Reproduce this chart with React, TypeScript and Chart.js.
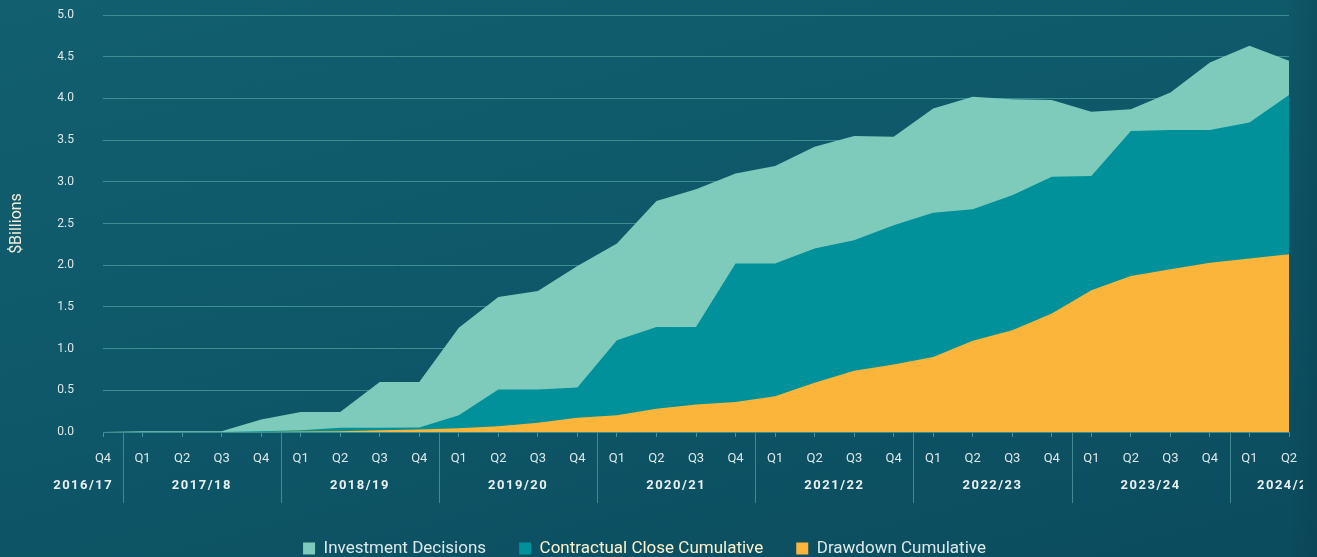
import React, { useEffect, useRef } from "react";
import { Chart, registerables } from "chart.js";

Chart.register(...registerables);

const quarterLabels = [
  "Q4",
  "Q1", "Q2", "Q3", "Q4",
  "Q1", "Q2", "Q3", "Q4",
  "Q1", "Q2", "Q3", "Q4",
  "Q1", "Q2", "Q3", "Q4",
  "Q1", "Q2", "Q3", "Q4",
  "Q1", "Q2", "Q3", "Q4",
  "Q1", "Q2", "Q3", "Q4",
  "Q1", "Q2",
];

const yearLabels = ["2016/17", "2017/18", "2018/19", "2019/20", "2020/21", "2021/22", "2022/23", "2023/24", "2024/25"];
const quartersPerYear = [1, 4, 4, 4, 4, 4, 4, 4, 2];

const investmentDecisions = [
  0, 0.01, 0.01, 0.01, 0.15, 0.24, 0.24, 0.6, 0.6, 1.25, 1.62,
  1.69, 1.99, 2.26, 2.77, 2.91, 3.1, 3.19, 3.42, 3.55, 3.54,
  3.88, 4.02, 3.99, 3.98, 3.84, 3.87, 4.07, 4.43, 4.63, 4.45,
];

const contractualClose = [
  0, 0, 0, 0, 0.01, 0.02, 0.05, 0.05, 0.055, 0.2, 0.51,
  0.51, 0.535, 1.1, 1.26, 1.26, 2.02, 2.02, 2.2, 2.3, 2.48,
  2.63, 2.67, 2.84, 3.06, 3.07, 3.61, 3.62, 3.62, 3.71, 4.04,
];

const drawdown = [
  0, 0, 0, 0, 0, 0.005, 0.01, 0.02, 0.03, 0.045, 0.07,
  0.11, 0.17, 0.2, 0.28, 0.33, 0.36, 0.43, 0.59, 0.735, 0.81,
  0.9, 1.095, 1.22, 1.42, 1.7, 1.87, 1.95, 2.03, 2.08, 2.13,
];

const yTicks = [0, 0.5, 1, 1.5, 2, 2.5, 3, 3.5, 4, 4.5, 5];

const COLORS = {
  investment: "#7ecbbc",
  contractual: "#00919a",
  drawdown: "#fcb53b",
  grid: "#3d8e93",
  tick: "#dde8ea",
};

const FONT = "Roboto, 'Noto Sans', sans-serif";

const legendFitPlugin = {
  id: "legendFit",
  beforeLayout(chart: any) {
    const lg = chart.legend;
    if (lg && !lg.__patched) {
      const origFit = lg.fit;
      lg.fit = function () {
        origFit.call(this);
        this.height = 50;
      };
      lg.__patched = true;
    }
  },
};

const yearPlugin = {
  id: "yearGroups",
  afterDraw(chart: any) {
    const x = chart.scales.x;
    const ctx = chart.ctx;
    const bottom = chart.chartArea.bottom;
    ctx.save();
    ctx.beginPath();
    ctx.rect(0, bottom, chart.chartArea.right + 14, 80);
    ctx.clip();
    let start = 0;
    quartersPerYear.forEach((n, g) => {
      const end = start + n - 1;
      let cx: number;
      if (g === 0) cx = x.getPixelForValue(start - 0.5);
      else if (g === quartersPerYear.length - 1) cx = x.getPixelForValue(end) - 2;
      else cx = (x.getPixelForValue(start) + x.getPixelForValue(end)) / 2;
      if (g > 0) {
        const sx = Math.round(x.getPixelForValue(start - 0.5)) + 0.5;
        ctx.strokeStyle = "#3f8b91";
        ctx.lineWidth = 1;
        ctx.beginPath();
        ctx.moveTo(sx, bottom);
        ctx.lineTo(sx, bottom + 71);
        ctx.stroke();
      }
      ctx.fillStyle = "#e9f0f1";
      ctx.font = `bold 13px ${FONT}`;
      (ctx as any).letterSpacing = "1.5px";
      ctx.textAlign = "center";
      ctx.textBaseline = "middle";
      ctx.fillText(yearLabels[g], cx, bottom + 54);
      start += n;
    });
    ctx.restore();
  },
};

export default function App() {
  const canvasRef = useRef<HTMLCanvasElement>(null);

  useEffect(() => {
    document.body.style.margin = "0";
    const canvas = canvasRef.current;
    if (!canvas) return;
    const chart = new Chart(canvas, {
      type: "line",
      data: {
        labels: quarterLabels,
        datasets: [
          {
            label: "Investment Decisions",
            data: investmentDecisions,
            backgroundColor: COLORS.investment,
            borderColor: COLORS.investment,
            borderWidth: 0,
            pointRadius: 0,
            fill: "origin",
            tension: 0,
            order: 3,
          },
          {
            label: "Contractual Close Cumulative",
            data: contractualClose,
            backgroundColor: COLORS.contractual,
            borderColor: COLORS.contractual,
            borderWidth: 0,
            pointRadius: 0,
            fill: "origin",
            tension: 0,
            order: 2,
          },
          {
            label: "Drawdown Cumulative",
            data: drawdown,
            backgroundColor: COLORS.drawdown,
            borderColor: COLORS.drawdown,
            borderWidth: 0,
            pointRadius: 0,
            fill: "origin",
            tension: 0,
            order: 1,
          },
        ],
      },
      options: {
        animation: false,
        responsive: false,
        maintainAspectRatio: false,
        layout: { padding: { top: 15, right: 28, bottom: 0, left: 0 } },
        plugins: {
          tooltip: { enabled: false },
          legend: {
            position: "bottom",
            labels: {
              boxWidth: 12,
              boxHeight: 12,
              padding: 33,
              font: { family: FONT, size: 17 },
              color: "#dce9ea",
              sort: (a: any, b: any) => a.datasetIndex - b.datasetIndex,
              generateLabels: (ch: any) => {
                const textColors = ["#dce9ea", "#fdf2cc", "#dce9ea"];
                return ch.data.datasets.map((ds: any, i: number) => ({
                  text: ds.label,
                  fillStyle: ds.backgroundColor,
                  strokeStyle: ds.backgroundColor,
                  lineWidth: 0,
                  hidden: false,
                  datasetIndex: i,
                  fontColor: textColors[i],
                }));
              },
            },
          },
        },
        scales: {
          x: {
            type: "category",
            offset: false,
            grid: {
              display: true,
              drawOnChartArea: false,
              drawTicks: true,
              tickLength: 5,
              color: "#4a9499",
            },
            border: { display: true, color: COLORS.grid },
            ticks: {
              color: COLORS.tick,
              font: { family: FONT, size: 13 },
              padding: 14,
              maxRotation: 0,
              autoSkip: false,
            },
            afterFit: (scale: any) => {
              scale.height = 75;
            },
          },
          y: {
            min: 0,
            max: 5,
            afterBuildTicks: (scale: any) => {
              scale.ticks = yTicks.map((v) => ({ value: v }));
            },
            grid: {
              color: COLORS.grid,
              drawTicks: false,
            },
            border: { display: false },
            ticks: {
              color: COLORS.tick,
              font: { family: FONT, size: 12 },
              padding: 29,
              callback: (v: any) => Number(v).toFixed(1),
            },
            title: {
              display: true,
              text: "$Billions",
              color: "#f2ecdb",
              font: { family: FONT, size: 16 },
              padding: { top: 7, bottom: 0 },
            },
            afterFit: (scale: any) => {
              scale.width = 103;
              scale.paddingTop = 6;
              scale.paddingBottom = 6;
            },
          },
        },
      },
      plugins: [legendFitPlugin, yearPlugin],
    } as any);
    return () => chart.destroy();
  }, []);

  return (
    <div
      style={{
        width: 1317,
        height: 557,
        background:
          "linear-gradient(90deg, rgba(0,0,0,0) 97.6%, rgba(4,40,52,0.18) 100%), linear-gradient(165deg, #125f6f 0%, #0e5869 45%, #0b4c5e 100%)",
      }}
    >
      <canvas ref={canvasRef} width={1317} height={557} style={{ display: "block" }} />
    </div>
  );
}
